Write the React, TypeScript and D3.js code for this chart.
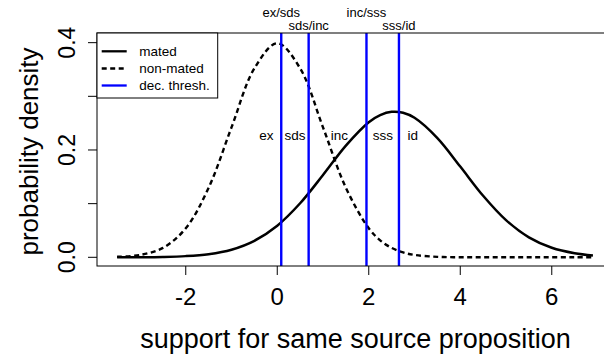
import React from "react";
import * as d3 from "d3";

// ---- data ----
const xs = [-3.5, -3, -2.5, -2, -1.5, -1, -0.5, 0, 0.5, 1, 1.5, 2, 2.25, 2.5, 2.75, 3, 3.5, 4, 4.5, 5, 5.5, 6, 6.5, 6.9];
const mated = [0.0001, 0.0002, 0.0007, 0.0022, 0.0059, 0.0142, 0.0307, 0.0589, 0.1007, 0.1534, 0.2082, 0.2518, 0.265, 0.2711, 0.2694, 0.26, 0.2222, 0.1691, 0.1146, 0.0692, 0.0372, 0.0178, 0.0076, 0.0035];
const nonMated = [0.0009, 0.0044, 0.0175, 0.054, 0.1295, 0.242, 0.3521, 0.3989, 0.3521, 0.242, 0.1295, 0.054, 0.0317, 0.0175, 0.0091, 0.0044, 0.0009, 0.0001, 0, 0, 0, 0, 0, 0];
const thresholds = [0.087, 0.686, 1.95, 2.66];
const thresholdLabels = ["ex/sds", "sds/inc", "inc/sss", "sss/id"];
const regionLabels = ["ex", "sds", "inc", "sss", "id"];
const regionLabelX = [-0.24, 0.39, 1.36, 2.31, 2.96];
const xTicks = [-2, 0, 2, 4, 6];
const yTicks = [0, 0.1, 0.2, 0.3, 0.4];
const yTickLabels = ["0.0", "", "0.2", "", "0.4"];
const legendItems = ["mated", "non-mated", "dec. thresh."];

const W = 604;
const H = 355;
const FONT = "'Liberation Sans', Arial, Helvetica, sans-serif";

export default function App() {
  const left = 97, right = 611.7, top = 33, bottom = 266;
  const x = d3.scaleLinear().domain([-3.94, 7.31]).range([left, right]);
  const y = d3.scaleLinear().domain([-0.0162, 0.418]).range([bottom, top]);

  const pts = (vals: number[]) => xs.map((v, i) => [v, vals[i]] as [number, number]);
  const line = d3
    .line<[number, number]>()
    .x((d) => x(d[0]))
    .y((d) => y(d[1]))
    .curve(d3.curveCatmullRom.alpha(0.5));

  const legendRows = [51.3, 68.5, 85.5];

  return (
    <svg
      width={W}
      height={H}
      style={{ position: "absolute", left: 0, top: 0, background: "#fff" }}
      fontFamily={FONT}
    >
      <rect x={0} y={0} width={W} height={H} fill="#fff" />
      {/* curves */}
      <path d={line(pts(nonMated)) || ""} fill="none" stroke="#000" strokeWidth={2.4} strokeDasharray="5,3.5" />
      <path d={line(pts(mated)) || ""} fill="none" stroke="#000" strokeWidth={2.5} />
      {/* thresholds */}
      {thresholds.map((t, i) => (
        <line key={"t" + i} x1={x(t)} x2={x(t)} y1={bottom} y2={top} stroke="#0000ff" strokeWidth={2.4} />
      ))}
      {thresholds.map((t, i) => (
        <text key={"tl" + i} x={x(t)} y={i % 2 === 0 ? 17 : 30} fontSize={13} textAnchor="middle" fill="#000">
          {thresholdLabels[i]}
        </text>
      ))}
      {regionLabels.map((l, i) => (
        <text key={"r" + i} x={x(regionLabelX[i])} y={y(0.227)} fontSize={13.5} textAnchor="middle" dominantBaseline="central" fill="#000">
          {l}
        </text>
      ))}
      {/* box */}
      <rect x={left} y={top} width={right - left} height={bottom - top} fill="none" stroke="#000" strokeWidth={1} />
      {/* x axis */}
      {xTicks.map((t) => (
        <g key={"xt" + t}>
          <line x1={x(t)} x2={x(t)} y1={bottom} y2={bottom + 9} stroke="#000" strokeWidth={1} />
          <text x={x(t)} y={305} fontSize={24} textAnchor="middle" fill="#000">
            {t}
          </text>
        </g>
      ))}
      {/* y axis */}
      {yTicks.map((t, i) => (
        <g key={"yt" + i}>
          <line x1={left} x2={left - 9} y1={y(t)} y2={y(t)} stroke="#000" strokeWidth={1} />
          {yTickLabels[i] && (
            <text transform={`translate(75,${y(t)}) rotate(-90)`} fontSize={23} textAnchor="middle" fill="#000">
              {yTickLabels[i]}
            </text>
          )}
        </g>
      ))}
      <text x={355.5} y={348} fontSize={27} textAnchor="middle" fill="#000">
        support for same source proposition
      </text>
      <text transform={`translate(38,${(top + bottom) / 2 + 2}) rotate(-90)`} fontSize={26} textAnchor="middle" fill="#000">
        probability density
      </text>
      {/* legend */}
      <rect x={left} y={top} width={217.7 - left} height={98 - top} fill="#fff" stroke="#000" strokeWidth={1} />
      {legendItems.map((l, i) => (
        <g key={"lg" + i}>
          <line
            x1={101.7}
            x2={126.7}
            y1={legendRows[i]}
            y2={legendRows[i]}
            stroke={i === 2 ? "#0000ff" : "#000"}
            strokeWidth={2.3}
            strokeDasharray={i === 1 ? "5,3.5" : undefined}
          />
          <text x={139.3} y={legendRows[i]} fontSize={13.5} dominantBaseline="central" fill="#000">
            {l}
          </text>
        </g>
      ))}
    </svg>
  );
}
